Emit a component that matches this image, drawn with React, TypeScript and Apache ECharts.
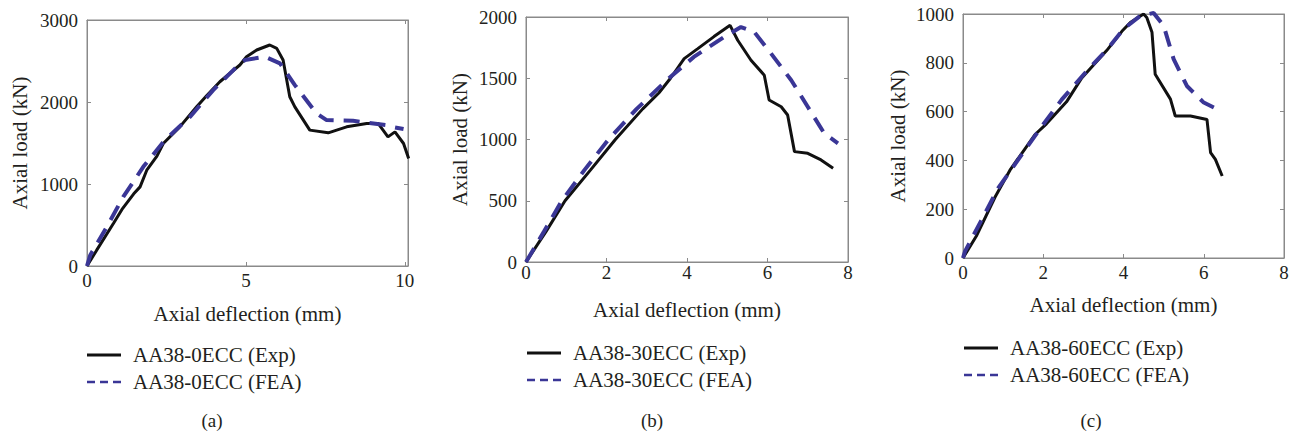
import React, { useEffect, useRef } from "react";
import * as echarts from "echarts";

// ---- Data (deflection mm, load kN) ----
const aExp: number[][] = [
  [0, 0], [0.3, 190], [0.83, 518], [1.1, 690], [1.47, 880], [1.67, 965], [1.88, 1168], [2.2, 1340],
  [2.4, 1494], [2.92, 1697], [3.45, 1941], [3.77, 2080], [4.18, 2247], [4.81, 2451], [5.02, 2552],
  [5.34, 2634], [5.75, 2695], [5.97, 2654], [6.17, 2512], [6.38, 2064], [6.54, 1941], [7.01, 1657],
  [7.59, 1624], [8.17, 1697], [8.8, 1739], [9.16, 1739], [9.47, 1575], [9.69, 1636], [9.96, 1494],
  [10.12, 1311],
];
const aFea: number[][] = [
  [0, 0], [0.1, 130], [0.62, 476], [1.14, 842], [1.77, 1209], [2.45, 1535], [3.24, 1819], [3.97, 2145],
  [4.71, 2430], [4.97, 2512], [5.6, 2552], [6.07, 2471], [6.54, 2206], [7.22, 1861], [7.54, 1779],
  [8.37, 1771], [9.42, 1718], [9.69, 1690], [9.96, 1670],
];
const bExp: number[][] = [
  [0, 0], [0.5, 250], [0.97, 500], [1.6, 750], [2.22, 1000], [2.9, 1250], [3.3, 1380], [3.59, 1500],
  [3.93, 1660], [4.26, 1740], [4.67, 1840], [5.07, 1932], [5.26, 1810], [5.59, 1647], [5.92, 1525],
  [6.04, 1322], [6.34, 1267], [6.5, 1200], [6.67, 901], [7.0, 887], [7.33, 833], [7.63, 765],
];
const bFea: number[][] = [
  [0, 0], [0.45, 250], [0.89, 500], [1.45, 750], [2.05, 1000], [2.75, 1250], [3.55, 1500], [4.17, 1674],
  [4.92, 1837], [5.34, 1918], [5.67, 1878], [6.09, 1701], [6.59, 1484], [7.0, 1267], [7.41, 1050],
  [7.75, 969],
];
const cExp: number[][] = [
  [0, 0], [0.33, 89], [0.8, 250], [1.17, 360], [1.79, 505], [2.08, 550], [2.58, 640], [2.96, 738],
  [3.58, 850], [3.96, 929], [4.17, 965], [4.5, 1000], [4.58, 986], [4.71, 925], [4.79, 753], [5.17, 651],
  [5.29, 582], [5.67, 582], [6.08, 568], [6.17, 432], [6.29, 404], [6.46, 336],
];
const cFea: number[][] = [
  [0, 0], [0.05, 27], [0.88, 287], [1.46, 423], [1.96, 539], [2.46, 649], [3.04, 758], [3.62, 860],
  [4.0, 938], [4.42, 993], [4.75, 1004], [5.0, 952], [5.25, 815], [5.58, 705], [6.0, 637], [6.42, 603],
];

const xRanges = [[0, 10.1, 5], [0, 8, 2], [0, 8, 2]];
const yRanges = [[0, 3000, 1000], [0, 2000, 500], [0, 1000, 200]];
const expNames = ["AA38-0ECC (Exp)", "AA38-30ECC (Exp)", "AA38-60ECC (Exp)"];
const feaNames = ["AA38-0ECC (FEA)", "AA38-30ECC (FEA)", "AA38-60ECC (FEA)"];
const panelLabels = ["(a)", "(b)", "(c)"];
const xAxisTitle = "Axial deflection (mm)";
const yAxisTitle = "Axial load (kN)";

const FONT = '"Liberation Serif", "DejaVu Serif", serif';
const BLUE = "#3a3696";
const BLACK = "#111111";
const BORDER = "#8a8a8a";
const TXT = "#231f20";

const grids = [
  { left: 87, top: 20, width: 321, height: 246 },
  { left: 526, top: 17, width: 322, height: 245 },
  { left: 963, top: 14, width: 321, height: 244 },
];
const xLabelMargin = [5, 1, 5];
const xNameGap = [37, 37, 36];
const yNameGap = [57, 56, 55];
const legendPos = [
  { lx: 87, tx: 133, y1: 355, y2: 382, px: 212 },
  { lx: 527, tx: 573, y1: 353, y2: 380, px: 652 },
  { lx: 964, tx: 1010, y1: 348, y2: 375, px: 1091 },
];

export default function App() {
  const ref = useRef<HTMLDivElement>(null);
  useEffect(() => {
    if (!ref.current) return;
    const chart = echarts.init(ref.current, null, { renderer: "svg" });
    const xAxis: any[] = [];
    const yAxis: any[] = [];
    const series: any[] = [];
    const graphic: any[] = [];
    const data = [[aExp, aFea], [bExp, bFea], [cExp, cFea]];

    grids.forEach((g, i) => {
      const [xmin, xmax, xint] = xRanges[i];
      const [ymin, ymax, yint] = yRanges[i];
      const common = {
        gridIndex: i,
        type: "value",
        axisLine: { show: true, onZero: false, lineStyle: { color: BORDER, width: 1 } },
        axisTick: { show: true, inside: true, length: 4, lineStyle: { color: BORDER } },
        splitLine: { show: false },
      };
      const isMultiple = (v: number, step: number) =>
        Math.abs(v / step - Math.round(v / step)) < 1e-6;
      xAxis.push({
        ...common,
        position: "bottom",
        min: xmin, max: xmax, interval: xint,
        name: xAxisTitle,
        nameLocation: "middle",
        nameGap: xNameGap[i],
        nameTextStyle: { fontFamily: FONT, fontSize: 21, color: TXT },
        axisLabel: {
          fontFamily: FONT, fontSize: 19, color: TXT, margin: xLabelMargin[i],
          formatter: (v: number) => (isMultiple(v, xint) ? String(v) : ""),
        },
      });
      xAxis.push({
        ...common,
        position: "top",
        min: xmin, max: xmax, interval: xint,
        axisLabel: { show: false },
      });
      yAxis.push({
        ...common,
        position: "left",
        min: ymin, max: ymax, interval: yint,
        name: yAxisTitle,
        nameLocation: "middle",
        nameGap: yNameGap[i],
        nameTextStyle: { fontFamily: FONT, fontSize: 21, color: TXT },
        axisLabel: {
          fontFamily: FONT, fontSize: 19, color: TXT, margin: 9,
          formatter: (v: number) => String(v),
        },
      });
      yAxis.push({
        ...common,
        position: "right",
        min: ymin, max: ymax, interval: yint,
        axisLabel: { show: false },
      });
      series.push({
        type: "line",
        name: expNames[i],
        xAxisIndex: i * 2,
        yAxisIndex: i * 2,
        data: data[i][0],
        symbol: "none",
        lineStyle: { color: BLACK, width: 3 },
        z: 3,
      });
      series.push({
        type: "line",
        name: feaNames[i],
        xAxisIndex: i * 2,
        yAxisIndex: i * 2,
        data: data[i][1],
        symbol: "none",
        clip: false,
        lineStyle: { color: BLUE, width: 4, type: [16, 10] },
        z: 4,
      });

      const lp = legendPos[i];
      graphic.push({
        type: "line",
        shape: { x1: lp.lx, y1: lp.y1, x2: lp.lx + 34, y2: lp.y1 },
        style: { stroke: BLACK, lineWidth: 3 },
      });
      graphic.push({
        type: "line",
        shape: { x1: lp.lx, y1: lp.y2, x2: lp.lx + 34, y2: lp.y2 },
        style: { stroke: BLUE, lineWidth: 2.5, lineDash: [8, 5] },
      });
      graphic.push({
        type: "text",
        x: lp.tx,
        y: lp.y1,
        style: { text: expNames[i], font: `21px ${FONT}`, fill: TXT, verticalAlign: "middle", align: "left" },
      });
      graphic.push({
        type: "text",
        x: lp.tx,
        y: lp.y2,
        style: { text: feaNames[i], font: `21px ${FONT}`, fill: TXT, verticalAlign: "middle", align: "left" },
      });
      graphic.push({
        type: "text",
        x: lp.px,
        y: 420,
        style: { text: panelLabels[i], font: `19px ${FONT}`, fill: TXT, verticalAlign: "middle", align: "center" },
      });
    });

    chart.setOption({
      animation: false,
      backgroundColor: "#ffffff",
      grid: grids.map((g) => ({
        ...g,
        containLabel: false,
        show: true,
        backgroundColor: "transparent",
        borderColor: BORDER,
        borderWidth: 1,
      })),
      xAxis,
      yAxis,
      series,
      graphic,
    });
    return () => chart.dispose();
  }, []);
  return (
    <div
      ref={ref}
      style={{ position: "fixed", left: 0, top: 0, width: 1298, height: 435 }}
    />
  );
}
